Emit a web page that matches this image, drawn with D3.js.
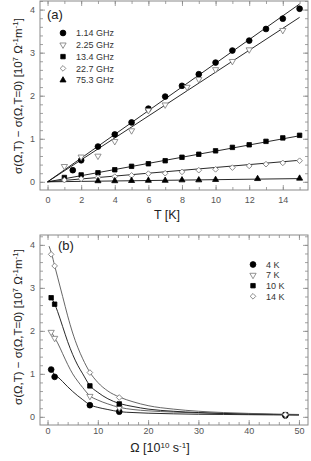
<!DOCTYPE html>
<html>
<head>
<meta charset="utf-8">
<script src="https://cdn.jsdelivr.net/npm/d3@7"></script>
<style>
  body { margin: 0; background: #fff; }
  text { font-family: "Liberation Sans", Arial, sans-serif; }
</style>
</head>
<body>
<div id="vcr"></div>
<script>
// panel (a): conductivity change vs temperature
var freqLabels = ["1.14 GHz", "2.25 GHz", "13.4 GHz", "22.7 GHz", "75.3 GHz"];
var tA1 = [1.5, 2, 3, 4, 5, 6, 7, 8, 9, 10, 11, 12, 13, 14, 15];
var sA1 = [0.27, 0.5, 0.82, 1.1, 1.38, 1.7, 1.98, 2.23, 2.5, 2.77, 3.05, 3.28, 3.55, 3.79, 4.02];
var tA2 = [1, 2, 3, 4, 5, 6, 7, 8.3, 9, 10, 11, 12, 14];
var sA2 = [0.36, 0.58, 0.6, 0.94, 1.19, 1.66, 1.79, 2.2, 2.38, 2.61, 2.8, 3.07, 3.52];
var tA3 = [1, 2, 3, 4, 5, 6, 7, 8, 9, 10, 11, 12, 13, 14, 15];
var sA3 = [0.1, 0.16, 0.21, 0.28, 0.36, 0.42, 0.49, 0.57, 0.64, 0.72, 0.8, 0.86, 0.94, 1.02, 1.08];
var tA4 = [1, 2, 3, 4, 5, 6, 7, 8, 9, 10, 11, 12, 13, 14, 15];
var sA4 = [0.04, 0.07, 0.1, 0.12, 0.15, 0.19, 0.2, 0.23, 0.27, 0.29, 0.33, 0.37, 0.41, 0.44, 0.49];
var tA5 = [3, 4, 5, 6, 7, 8, 9, 10, 12.5, 15];
var sA5 = [0.02, 0.02, 0.025, 0.03, 0.03, 0.04, 0.04, 0.05, 0.07, 0.08];
// straight fit lines, value at T = 0 and T = 15
var fitEndsA = [[0, 4.13], [0, 3.82], [0, 1.07], [0, 0.5], [0, 0.075]];
var fitTA = [0, 15];

// panel (b): conductivity change vs frequency
var tempLabels = ["4 K", "7 K", "10 K", "14 K"];
var omegaB = [0.72, 1.41, 8.42, 14.26, 47.3];
var sB4 = [1.1, 0.93, 0.27, 0.12, 0.03];
var sB7 = [1.97, 1.83, 0.48, 0.21, 0.04];
var sB10 = [2.77, 2.62, 0.72, 0.3, 0.05];
var sB14 = [3.78, 3.51, 1.03, 0.45, 0.05];
// fit curves
var fitOmega = [0.3, 0.8, 1.4, 2, 3, 4, 5, 6, 7, 8.4, 10, 12, 14.3, 17, 20, 25, 30, 35, 40, 45, 50];
var fit4 = [1.16, 1.1, 0.97, 0.93, 0.82, 0.7, 0.59, 0.49, 0.4, 0.28, 0.22, 0.17, 0.12, 0.1, 0.085, 0.07, 0.06, 0.055, 0.05, 0.045, 0.04];
var fit7 = [2.0, 1.96, 1.84, 1.72, 1.47, 1.22, 1.0, 0.83, 0.68, 0.49, 0.39, 0.3, 0.22, 0.17, 0.14, 0.11, 0.09, 0.075, 0.065, 0.055, 0.05];
var fit10 = [2.83, 2.76, 2.63, 2.45, 2.1, 1.75, 1.45, 1.2, 1.0, 0.73, 0.57, 0.42, 0.31, 0.24, 0.18, 0.13, 0.1, 0.08, 0.065, 0.055, 0.05];
var fit14 = [3.97, 3.8, 3.52, 3.25, 2.8, 2.35, 1.95, 1.62, 1.35, 1.04, 0.8, 0.6, 0.46, 0.35, 0.26, 0.18, 0.13, 0.1, 0.08, 0.065, 0.055];

var width = 311, height = 461;
var frameCol = "#8a8a8a", tickTextCol = "#555";

var svg = d3.select("#vcr").append("svg")
  .attr("width", width).attr("height", height);

// marker styles: filled circle, open down-triangle, filled square, open diamond, filled triangle
var markers = [
  { type: d3.symbolCircle, size: 26, rot: 0, fill: "#000", stroke: "#000" },
  { type: d3.symbolTriangle, size: 17, rot: 180, fill: "#fff", stroke: "#777" },
  { type: d3.symbolSquare, size: 20, rot: 0, fill: "#000", stroke: "#000" },
  { type: d3.symbolSquare, size: 16, rot: 45, fill: "#fff", stroke: "#777" },
  { type: d3.symbolTriangle, size: 16, rot: 0, fill: "#000", stroke: "#000" }
];

function drawMarkers(g, pts, m) {
  g.selectAll(null).data(pts).enter().append("path")
    .attr("d", d3.symbol().type(m.type).size(m.size))
    .attr("transform", function(d) { return "translate(" + d[0] + "," + d[1] + ") rotate(" + m.rot + ")"; })
    .attr("fill", m.fill).attr("stroke", m.stroke).attr("stroke-width", 0.8);
}

function frame(box, x, y, xMajor, xMinor, yMajor, yMinor, xPad) {
  var g = svg.append("g");
  function axisLine(sel) {
    sel.select(".domain").remove();
    sel.selectAll("line").attr("stroke", frameCol).attr("stroke-width", 0.8);
    sel.selectAll("text").attr("fill", tickTextCol).style("font-size", "9px");
  }
  g.append("g").attr("transform", "translate(0," + box.bottom + ")")
    .call(d3.axisBottom(x).tickValues(xMinor).tickSize(-3).tickFormat("")).call(axisLine);
  g.append("g").attr("transform", "translate(0," + box.bottom + ")")
    .call(d3.axisBottom(x).tickValues(xMajor).tickSize(-5).tickPadding(xPad).tickFormat(d3.format("d"))).call(axisLine);
  g.append("g").attr("transform", "translate(0," + box.top + ")")
    .call(d3.axisTop(x).tickValues(xMinor).tickSize(-3).tickFormat("")).call(axisLine);
  g.append("g").attr("transform", "translate(0," + box.top + ")")
    .call(d3.axisTop(x).tickValues(xMajor).tickSize(-5).tickFormat("")).call(axisLine);
  g.append("g").attr("transform", "translate(" + box.left + ",0)")
    .call(d3.axisLeft(y).tickValues(yMinor).tickSize(-3).tickFormat("")).call(axisLine);
  g.append("g").attr("transform", "translate(" + box.left + ",0)")
    .call(d3.axisLeft(y).tickValues(yMajor).tickSize(-5).tickPadding(5).tickFormat(d3.format("d"))).call(axisLine);
  g.append("g").attr("transform", "translate(" + box.right + ",0)")
    .call(d3.axisRight(y).tickValues(yMinor).tickSize(-3).tickFormat("")).call(axisLine);
  g.append("g").attr("transform", "translate(" + box.right + ",0)")
    .call(d3.axisRight(y).tickValues(yMajor).tickSize(-5).tickFormat("")).call(axisLine);
  g.append("rect")
    .attr("x", box.left).attr("y", box.top)
    .attr("width", box.right - box.left).attr("height", box.bottom - box.top)
    .attr("fill", "none").attr("stroke", frameCol).attr("stroke-width", 1);
}

function yLabel(cx, cy) {
  var t = svg.append("text")
    .attr("transform", "translate(" + cx + "," + cy + ") rotate(-90)")
    .attr("text-anchor", "middle").attr("fill", "#222").style("font-size", "11.5px");
  t.append("tspan").text("σ(Ω,T) − σ(Ω,T=0)  [10");
  t.append("tspan").attr("dy", -4).style("font-size", "8px").text("7");
  t.append("tspan").attr("dy", 4).text(" Ω");
  t.append("tspan").attr("dy", -4).style("font-size", "8px").text("-1");
  t.append("tspan").attr("dy", 4).text("m");
  t.append("tspan").attr("dy", -4).style("font-size", "8px").text("-1");
  t.append("tspan").attr("dy", 4).text("]");
}

function minorRange(a, b, s) {
  return d3.range(Math.round((b - a) / s) + 1).map(function(i) { return +(a + i * s).toFixed(3); });
}

// ---------- panel (a) ----------
var boxA = { left: 40, right: 308, top: 1, bottom: 190 };
var xA = d3.scaleLinear().domain([-0.45, 15.5]).range([boxA.left, boxA.right]);
var yA = d3.scaleLinear().domain([-0.19, 4.2]).range([boxA.bottom, boxA.top]);
frame(boxA, xA, yA, d3.range(0, 15, 2), d3.range(0, 16, 1), d3.range(0, 5), minorRange(0, 4.2, 0.2), 7);

var gA = svg.append("g");
fitEndsA.forEach(function(e) {
  gA.append("path")
    .datum([[fitTA[0], e[0]], [fitTA[1], e[1]]])
    .attr("d", d3.line().x(function(d) { return xA(d[0]); }).y(function(d) { return yA(d[1]); }))
    .attr("fill", "none").attr("stroke", "#111").attr("stroke-width", 0.9);
});
[[tA1, sA1], [tA2, sA2], [tA3, sA3], [tA4, sA4], [tA5, sA5]].forEach(function(s, i) {
  var pts = s[0].map(function(t, j) { return [xA(t), yA(s[1][j])]; });
  drawMarkers(gA, pts, markers[i]);
});

svg.append("text").attr("x", 47).attr("y", 19).style("font-size", "13px").attr("fill", "#222").text("(a)");
freqLabels.forEach(function(lab, i) {
  var yy = 33 + i * 11.8;
  drawMarkers(svg, [[63, yy]], markers[i]);
  svg.append("text").attr("x", 76).attr("y", yy + 3.2).style("font-size", "9px").attr("fill", "#333").text(lab);
});
svg.append("text").attr("x", 167).attr("y", 219).attr("text-anchor", "middle")
  .style("font-size", "12.5px").attr("fill", "#222").text("T  [K]");
yLabel(22, 96);

// ---------- panel (b) ----------
var boxB = { left: 40, right: 308, top: 235, bottom: 425 };
var xB = d3.scaleLinear().domain([-1.5, 51.8]).range([boxB.left, boxB.right]);
var yB = d3.scaleLinear().domain([-0.19, 4.23]).range([boxB.bottom, boxB.top]);
frame(boxB, xB, yB, d3.range(0, 51, 10), d3.range(0, 51, 2), d3.range(0, 5), minorRange(0, 4.2, 0.2), 3);

var gB = svg.append("g");
var curve = d3.line().curve(d3.curveMonotoneX)
  .x(function(d) { return xB(d[0]); }).y(function(d) { return yB(d[1]); });
[fit4, fit7, fit10, fit14].forEach(function(f, i) {
  gB.append("path")
    .datum(fitOmega.map(function(o, j) { return [o, f[j]]; }))
    .attr("d", curve)
    .attr("fill", "none").attr("stroke", i % 2 ? "#555" : "#111").attr("stroke-width", 0.9);
});
[sB4, sB7, sB10, sB14].forEach(function(s, i) {
  var pts = omegaB.map(function(o, j) { return [xB(o), yB(s[j])]; });
  drawMarkers(gB, pts, markers[i]);
});

svg.append("text").attr("x", 58).attr("y", 250).style("font-size", "13px").attr("fill", "#222").text("(b)");
tempLabels.forEach(function(lab, i) {
  var yy = 264.5 + i * 10.6;
  drawMarkers(svg, [[253, yy]], markers[i]);
  svg.append("text").attr("x", 266).attr("y", yy + 3.2).style("font-size", "9px").attr("fill", "#333").text(lab);
});
var xl = svg.append("text").attr("x", 160).attr("y", 452).attr("text-anchor", "middle")
  .style("font-size", "12.5px").attr("fill", "#222");
xl.append("tspan").text("Ω  [10");
xl.append("tspan").attr("dy", -4).style("font-size", "8px").text("10");
xl.append("tspan").attr("dy", 4).text(" s");
xl.append("tspan").attr("dy", -4).style("font-size", "8px").text("-1");
xl.append("tspan").attr("dy", 4).text("]");
yLabel(22, 327);
</script>
</body>
</html>
